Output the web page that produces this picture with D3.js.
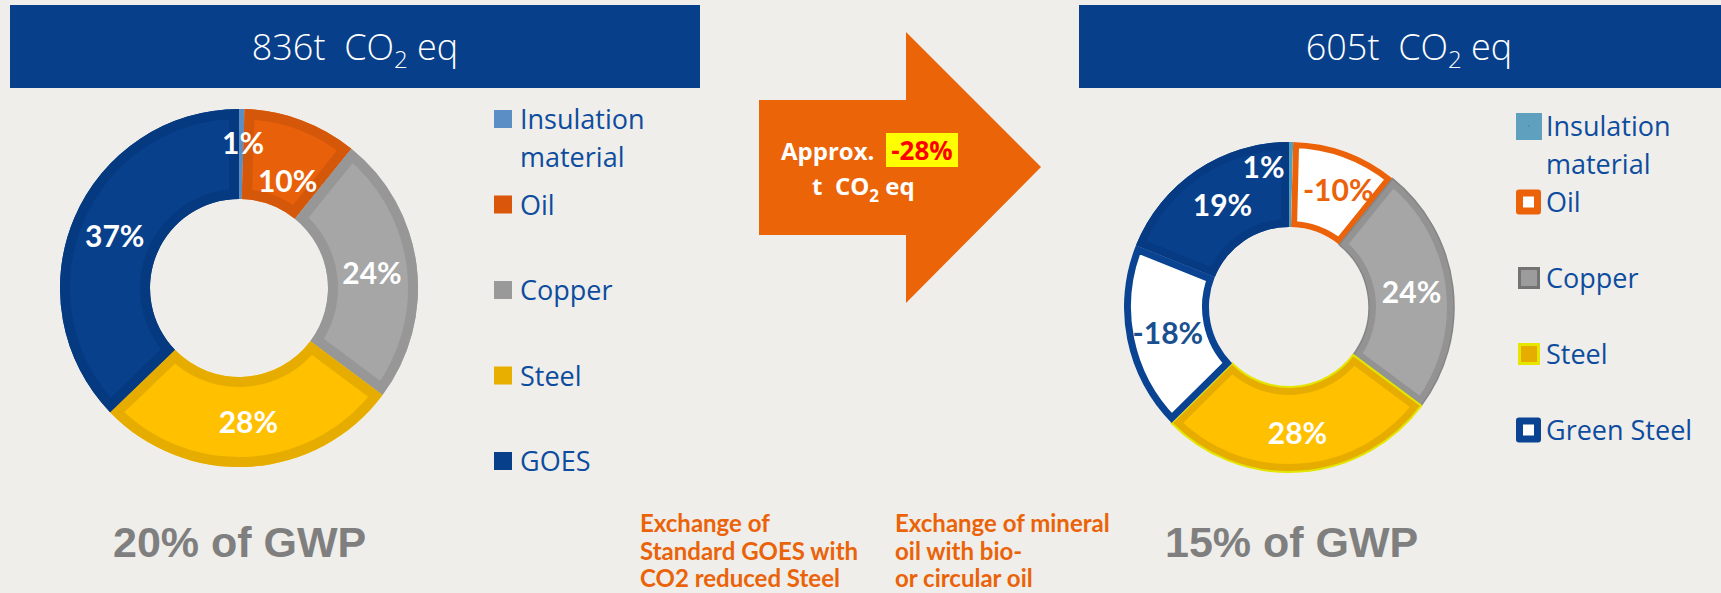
<!DOCTYPE html>
<html><head><meta charset="utf-8">
<script src="https://cdn.jsdelivr.net/npm/d3@7"></script>
<style>body{margin:0;background:#EFEEEA;overflow:hidden;} svg{display:block;} text{white-space:pre;}</style>
</head><body><svg id="c" width="1721" height="593"></svg>
<script>
// ---------- DATA ----------
const beforeCategories = ["Insulation material", "Oil", "Copper", "Steel", "GOES"];
const beforeValues = [0.5, 10.3, 24.4, 27.6, 37.2];
const beforeLabels = ["1%", "10%", "24%", "28%", "37%"];
const afterCategories = ["Insulation material", "Oil", "Copper", "Steel", "Green Steel", "GOES"];
const afterValues = [0.4, 10.4, 24.4, 27.4, 18.5, 18.9];
const afterLabels = ["1%", "-10%", "24%", "28%", "-18%", "19%"];
const beforeLegend = ["Insulation\nmaterial", "Oil", "Copper", "Steel", "GOES"];
const afterLegend = ["Insulation\nmaterial", "Oil", "Copper", "Steel", "Green Steel"];
const beforeTotal = "836t";
const afterTotal = "605t";
const reductionLabel = "-28%";
const beforeGWP = "20% of GWP";
const afterGWP = "15% of GWP";
const noteGOES = ["Exchange of", "Standard GOES with", "CO2 reduced Steel"];
const noteOil = ["Exchange of mineral", "oil with bio-", "or circular oil"];

// ---------- STYLES ----------
const BG = "#EFEEEA";
const NAVY = "#083F8A";
const ORANGE = "#EB6309";
const LEGEND_TEXT = "#0D4C9E";

const beforeStyle = {
  "Insulation material": {fill: "#5B8FC4", border: "#5B8FC4", bw: 0},
  "Oil": {fill: "#E8600A", border: "#D4570A", bw: 10},
  "Copper": {fill: "#A6A6A6", border: "#979797", bw: 10},
  "Steel": {fill: "#FFC000", border: "#E6AD00", bw: 10},
  "GOES": {fill: "#08408C", border: "#053A80", bw: 10}
};
const afterStyle = {
  "Insulation material": {fill: "#4F9FC0", border: "#4F9FC0", bw: 0},
  "Oil": {fill: "#FFFFFF", border: "#EB6209", bw: 6},
  "Copper": {fill: "#A6A6A6", border: "#939393", bw: 7, outer: "#858585", ow: 1.5},
  "Steel": {fill: "#FFC000", border: "#E6AD00", bw: 8, outer: "#E4E600", ow: 2},
  "Green Steel": {fill: "#FFFFFF", border: "#0A4392", bw: 7},
  "GOES": {fill: "#08408C", border: "#063B84", bw: 8}
};
const afterLabelColor = {"Oil": "#EB6209", "Green Steel": "#1A4F90"};

const svg = d3.select("#c");
svg.append("rect").attr("width", 1721).attr("height", 593).attr("fill", BG);
const defs = svg.append("defs");

// ---------- HEADERS ----------
function header(x0, x1, cx, total) {
  svg.append("rect").attr("x", x0).attr("y", 5).attr("width", x1 - x0).attr("height", 83).attr("fill", NAVY);
  const t = svg.append("text").attr("x", cx).attr("y", 60)
    .attr("text-anchor", "middle").attr("fill", "#FFFFFF")
    .style("font-family", "'Open Sans', sans-serif").style("font-weight", 300).style("font-size", "36px");
  t.append("tspan").text(total + "  CO");
  t.append("tspan").attr("dy", 8).style("font-size", "24px").text("2");
  t.append("tspan").attr("dy", -8).text(" eq");
}
header(10, 700, 355, beforeTotal);
header(1079, 1721, 1409, afterTotal);

// ---------- DONUT ----------
function donut(cx, cy, R, r, cats, vals, labels, styles, nudges, labelColors, id) {
  const data = cats.map((c, i) => ({cat: c, value: vals[i], label: labels[i]}));
  const pie = d3.pie().sort(null).value(d => d.value);
  const arc = d3.arc().innerRadius(r).outerRadius(R);
  const g = svg.append("g").attr("transform", `translate(${cx},${cy})`);
  const arcs = pie(data);
  arcs.forEach((a, i) => {
    const s = styles[a.data.cat];
    const cid = `${id}-clip-${i}`;
    defs.append("clipPath").attr("id", cid).append("path").attr("d", arc(a));
    g.append("path").attr("d", arc(a)).attr("fill", s.fill);
    if (s.bw > 0) {
      g.append("path").attr("d", arc(a)).attr("fill", "none")
        .attr("stroke", s.border).attr("stroke-width", s.bw * 2)
        .attr("stroke-linejoin", "miter")
        .attr("clip-path", `url(#${cid})`);
    }
    if (s.outer) {
      g.append("path").attr("d", arc(a)).attr("fill", "none")
        .attr("stroke", s.outer).attr("stroke-width", s.ow);
    }
  });
  arcs.forEach((a, i) => {
    const c = arc.centroid(a);
    const n = nudges[i] || [0, 0];
    g.append("text").attr("x", c[0] + n[0]).attr("y", c[1] + n[1]).attr("dy", "0.35em")
      .attr("text-anchor", "middle")
      .attr("fill", (labelColors && labelColors[a.data.cat]) || "#FFFFFF")
      .style("font-family", "Lato, sans-serif").style("font-weight", 700).style("font-size", "30px")
      .text(a.data.label);
  });
}
donut(239, 288, 179, 89, beforeCategories, beforeValues, beforeLabels, beforeStyle,
  [[2, -11], [2, 19], [0, 2], [1, 1], [-1, 1]], null, "b");
donut(1289, 307, 165, 80, afterCategories, afterValues, afterLabels, afterStyle,
  [[-27, -17], [7, -2], [1, 1], [0, 4], [-1, 2], [2, 0]], afterLabelColor, "a");

// ---------- LEGENDS ----------
const legendFont = g => g.style("font-family", "'Open Sans', sans-serif").style("font-size", "27px").attr("fill", LEGEND_TEXT);
function legendText(x, y, label) {
  const lines = label.split("\n");
  const t = svg.append("text").attr("x", x).attr("y", y).call(legendFont);
  lines.forEach((l, k) => t.append("tspan").attr("x", x).attr("dy", k === 0 ? 0 : 38).text(l));
}
const yLeft = d3.scaleLinear().domain([0, 4]).range([129, 471]);
const leftSwatch = ["#5B8EC4", "#D9560A", "#999999", "#E8AE00", "#083F8A"];
beforeLegend.forEach((lab, i) => {
  const y = yLeft(i);
  svg.append("rect").attr("x", 494).attr("y", y - 19).attr("width", 18).attr("height", 18).attr("fill", leftSwatch[i]);
  legendText(520, y, lab);
});
const yRight = d3.scaleLinear().domain([0, 4]).range([136, 440]);
afterLegend.forEach((lab, i) => {
  const y = yRight(i);
  const cy = y - 10;
  const cat = afterCategories[i];
  if (i === 0) {
    svg.append("rect").attr("x", 1516).attr("y", cy - 13).attr("width", 26).attr("height", 27).attr("fill", "#5FA0BE");
    svg.append("rect").attr("x", 1528).attr("y", cy - 1).attr("width", 2).attr("height", 2).attr("fill", "#4A90C0");
  } else if (cat === "Oil" || cat === "Green Steel") {
    const col = cat === "Oil" ? "#EB6209" : "#0A4392";
    svg.append("rect").attr("x", 1516).attr("y", cy - 12.5).attr("width", 25).attr("height", 25).attr("rx", 3).attr("fill", col);
    svg.append("rect").attr("x", 1523).attr("y", cy - 5.5).attr("width", 11).attr("height", 11).attr("fill", "#FFFFFF");
  } else {
    const f = cat === "Copper" ? "#9C9C9C" : "#E6AD00";
    const b = cat === "Copper" ? "#737373" : "#E6E600";
    svg.append("rect").attr("x", 1519.5).attr("y", cy - 9.5).attr("width", 19).attr("height", 19)
      .attr("fill", f).attr("stroke", b).attr("stroke-width", 3);
  }
  legendText(1546, y, lab);
});

// ---------- ARROW ----------
const arrowPts = [[759, 100], [906, 100], [906, 32], [1041, 167], [906, 303], [906, 235], [759, 235]];
svg.append("path").attr("d", d3.line()(arrowPts) + "Z").attr("fill", "#EC6408");
svg.append("rect").attr("x", 886).attr("y", 133).attr("width", 72).attr("height", 34).attr("fill", "#FFFF00");
const af = t => t.style("font-family", "'Open Sans', sans-serif").style("font-weight", 700).style("font-size", "24px");
svg.append("text").attr("x", 781).attr("y", 160).attr("fill", "#FFFFFF").call(af).text("Approx.");
svg.append("text").attr("x", 922).attr("y", 160).attr("text-anchor", "middle").attr("fill", "#FF0000").call(af).style("font-size", "26px").text(reductionLabel);
const t2 = svg.append("text").attr("x", 812).attr("y", 195).attr("fill", "#FFFFFF").call(af);
t2.append("tspan").text("t  CO");
t2.append("tspan").attr("dy", 7).style("font-size", "17px").text("2");
t2.append("tspan").attr("dy", -7).text(" eq");

// ---------- BOTTOM TEXTS ----------
const gwpFont = t => t.style("font-family", "'Liberation Sans', Arial, sans-serif").style("font-weight", 700).style("font-size", "43px").attr("fill", "#7F7F7F");
svg.append("text").attr("x", 113).attr("y", 557).call(gwpFont).text(beforeGWP);
svg.append("text").attr("x", 1165).attr("y", 557).call(gwpFont).text(afterGWP);
function note(x, lines) {
  const t = svg.append("text").attr("fill", ORANGE)
    .style("font-family", "Lato, sans-serif").style("font-weight", 700).style("font-size", "24px");
  lines.forEach((l, k) => t.append("tspan").attr("x", x).attr("y", 532 + k * 27.5).text(l));
}
note(640, noteGOES);
note(895, noteOil);
</script>
</body></html>
